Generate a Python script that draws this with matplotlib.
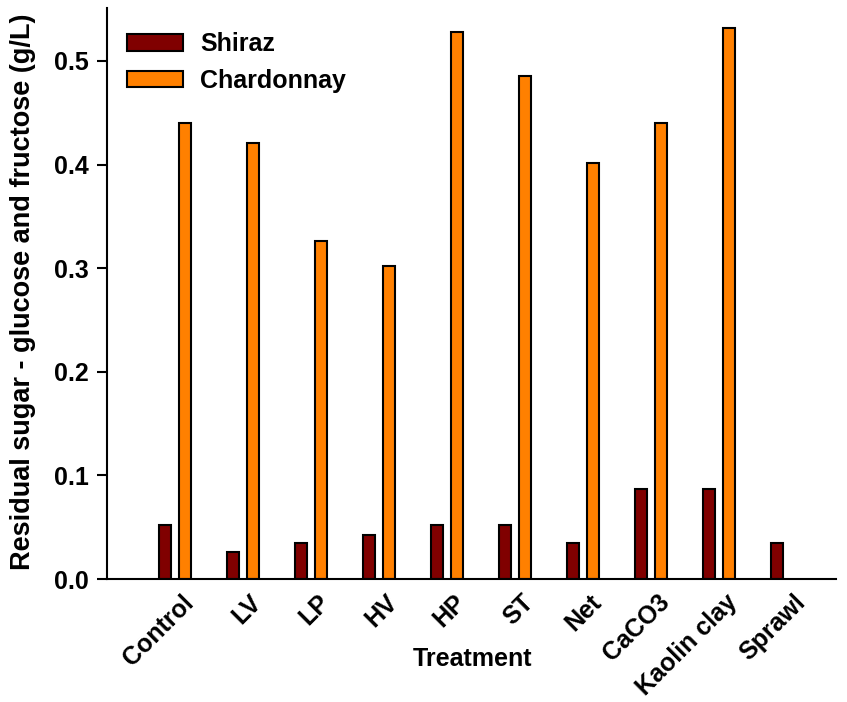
import matplotlib
matplotlib.use("Agg")
import matplotlib.pyplot as plt
from matplotlib.transforms import ScaledTranslation
import numpy as np

# treatments and residual sugar values (g/L)
treatments = ["Control", "LV", "LP", "HV", "HP", "ST", "Net", "CaCO3", "Kaolin clay", "Sprawl"]
shiraz = [0.052, 0.026, 0.035, 0.043, 0.052, 0.052, 0.035, 0.087, 0.087, 0.035]
chardonnay = [0.440, 0.421, 0.326, 0.302, 0.528, 0.485, 0.401, 0.440, 0.532, 0.0]

plt.rcParams['font.family'] = ['Liberation Sans', 'DejaVu Sans']
plt.rcParams['font.weight'] = 'bold'

fig = plt.figure(figsize=(8.47, 7.02), dpi=100)
ax = fig.add_axes([0.1263, 0.175, 0.8607, 0.8136])

x = np.arange(len(treatments))
w = 0.19
ax.bar(x - 0.147, shiraz, w, color='#800000', edgecolor='black', linewidth=1.5, label='Shiraz')
# Sprawl has no Chardonnay bar
ch = np.array(chardonnay)
mask = ch > 0
ax.bar(x[mask] + 0.147, ch[mask], w, color='#ff8000', edgecolor='black', linewidth=1.5, label='Chardonnay')

ax.set_xlim(-1.0, 9.72)
ax.set_ylim(0, 0.551)
ax.set_yticks([0.0, 0.1, 0.2, 0.3, 0.4, 0.5])
ax.set_yticklabels(["0.0", "0.1", "0.2", "0.3", "0.4", "0.5"], fontsize=18, fontweight='bold')
ax.set_xticks(x)
ax.set_xticklabels(treatments, rotation=45, ha='right', rotation_mode='anchor', fontsize=18, fontweight='bold')
ax.tick_params(axis='x', length=0, pad=8)
ax.tick_params(axis='y', direction='out', length=7, width=1.5, pad=6)
# nudge the rotated labels a little to the right
for lab in ax.get_xticklabels():
    lab.set_transform(lab.get_transform() + ScaledTranslation(6 / 100, 0, fig.dpi_scale_trans))

for s in ['top', 'right']:
    ax.spines[s].set_visible(False)
for s in ['left', 'bottom']:
    ax.spines[s].set_linewidth(1.5)

ax.set_ylabel("Residual sugar - glucose and fructose (g/L)", fontsize=19.5, fontweight='bold')
ax.yaxis.set_label_coords(-0.098, 0.503)
ax.set_xlabel("Treatment", fontsize=18, fontweight='bold')
ax.xaxis.set_label_coords(0.502, -0.119)

ax.legend(loc='upper left', bbox_to_anchor=(0.014, 0.975), borderaxespad=0, frameon=False, fontsize=18,
          handlelength=2.24, handleheight=0.64, labelspacing=0.5, handletextpad=0.68)

fig.savefig("out.png", dpi=100)
